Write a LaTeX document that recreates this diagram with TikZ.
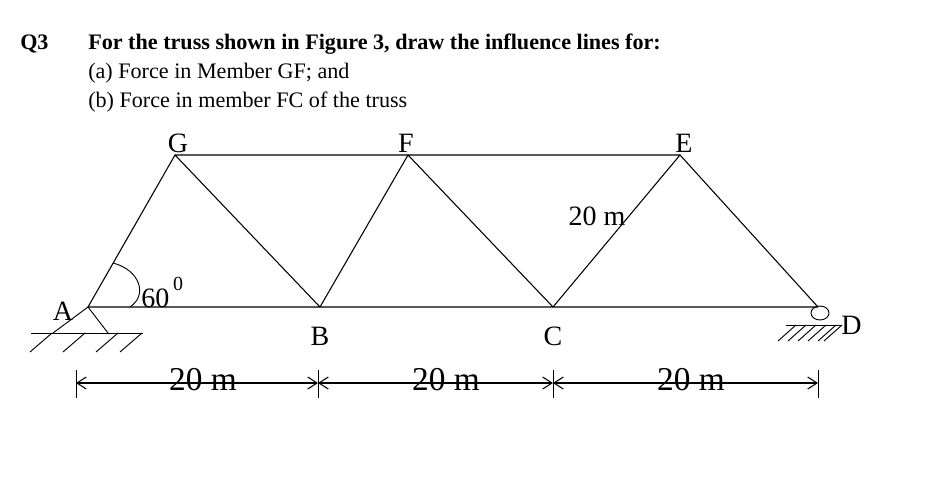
\documentclass[tikz,border=0pt]{standalone}
\usepackage{fontspec}
\setmainfont{Liberation Serif}
\usetikzlibrary{arrows.meta}
\begin{document}
\begin{tikzpicture}[x=0.75pt,y=-0.75pt,
  mem/.style={line width=0.8pt},
  txt/.style={font=\fontsize{16.6}{20}\selectfont,inner sep=0pt},
  big/.style={font=\fontsize{21}{24}\selectfont,inner sep=0pt},
  huge/.style={font=\fontsize{25}{28}\selectfont,inner sep=0pt},
  dim/.style={line width=0.8pt,{Straight Barb[length=7pt,width=9pt]}-{Straight Barb[length=7pt,width=9pt]}},
  hatch/.style={line width=0.7pt}]
\useasboundingbox (0,0) rectangle (940,486);
\node[txt,font=\fontsize{16.6}{20}\selectfont\bfseries,anchor=west] (q) at (20,44) {Q3};
\node[txt,font=\fontsize{16.6}{20}\selectfont\bfseries,anchor=west] (t1) at (88,44) {For the truss shown in Figure 3, draw the influence lines for:};
\node[txt,anchor=west] (t2) at (88,73) {(a) Force in Member GF; and};
\node[txt,anchor=west] (t3) at (88,102) {(b) Force in member FC of the truss};
\coordinate (A) at (88,307); \coordinate (B) at (320,307); \coordinate (C) at (553,307);
\coordinate (D) at (818,307); \coordinate (G) at (175,155); \coordinate (F) at (408,155);
\coordinate (E) at (680,155);
\draw[mem] (A)--(D) (G)--(E) (A)--(G)--(B)--(F)--(C)--(E)--(D);
% angle
\draw[line width=0.7pt] (130,307) .. controls (148,295) and (140,270) .. (113,263);
\node[big,anchor=west] (ang) at (141,298) {60};
\node[font=\fontsize{15}{18}\selectfont,inner sep=0pt] (deg) at (178,284) {0};
% support A
\draw[line width=0.7pt] (53,333)--(A)--(108,333);
\draw[line width=0.7pt] (31,333)--(143,333);
\foreach \x in {52,85,118,142} \draw[hatch] (\x,333)--(\x-22,352);
% support D
\draw[line width=0.7pt] (820,313) ellipse[x radius=9,y radius=7];
\draw[line width=0.7pt] (786,325)--(842,325);
\foreach \x in {796,806,816,826,836,842} \draw[hatch] (\x,325)--(\x-18,341);
% labels
\node[big] (lG) at (178,143) {G};
\node[big] (lF) at (406,143) {F};
\node[big] (lE) at (684,143) {E};
\node[big] (lA) at (63,311) {A};
\node[big] (lB) at (320,336) {B};
\node[big] (lC) at (553,336) {C};
\node[big,anchor=west] (lD) at (841,325) {D};
\node[big] (l20) at (597,216) {20 m};
% dimensions
\foreach \x in {76,318,553,818} \draw[line width=0.7pt] (\x,370)--(\x,398);
\coordinate (d0) at (76,383); \coordinate (d1) at (318,383); \coordinate (d2) at (553,383); \coordinate (d3) at (818,383);
\draw[dim] (d0)--(d1); \draw[dim] (d1)--(d2); \draw[dim] (d2)--(d3);
\node[huge] (m1) at (203,380) {20 m};
\node[huge] (m2) at (446,380) {20 m};
\node[huge] (m3) at (691,380) {20 m};
\end{tikzpicture}
\end{document}
